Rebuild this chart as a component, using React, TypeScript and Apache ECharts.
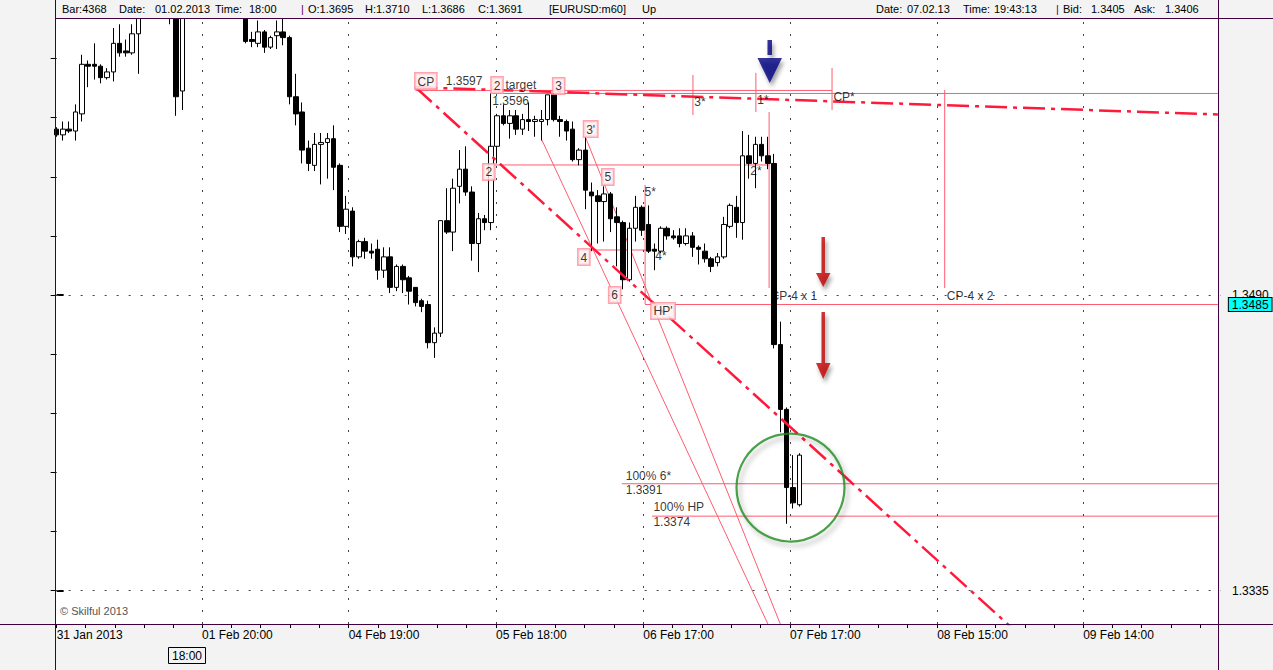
import React, { useEffect, useRef } from "react";
import * as echarts from "echarts";

const FONT = "'Liberation Sans', Arial, sans-serif";

// ---------- axes ----------
const categoryCount = 186;
// time labels, positioned in bar units
const timeLabelPos = [0, 23.1, 46.4, 69.8, 93.2, 116.5, 139.9, 163.1];
const timeLabelText = ["31 Jan 2013", "01 Feb 20:00", "04 Feb 19:00", "05 Feb 18:00", "06 Feb 17:00", "07 Feb 17:00", "08 Feb 15:00", "09 Feb 14:00"];
const priceLabels = [1.349, 1.3335];
const priceMin = 1.331743;
const priceMax = 1.363529;

// ---------- EURUSD m60 candles ----------
const opens = [
  1.3577, 1.3574, 1.3577, 1.3576, 1.3585, 1.3611, 1.3611, 1.3610, 1.3604, 1.3607,
  1.3622, 1.3618, 1.3617, 1.3627, 1.3642, 1.3651, 1.3659, 1.3655, 1.3662, 1.3650,
  1.3597, 1.3668, 1.3690, 1.3686, 1.3695, 1.3691, 1.3684, 1.3675, 1.3668, 1.3656,
  1.3645, 1.3624, 1.3622, 1.3628, 1.3620, 1.3626, 1.3628, 1.3625, 1.3594, 1.3586,
  1.3567, 1.3558, 1.3569, 1.3570, 1.3572, 1.3558, 1.3526, 1.3534, 1.3510, 1.3518,
  1.3513, 1.3514, 1.3503, 1.3510, 1.3494, 1.3505, 1.3499, 1.3494, 1.3487, 1.3485,
  1.3465, 1.3470, 1.3529, 1.3523, 1.3547, 1.3556, 1.3544, 1.3517, 1.3530, 1.3528,
  1.3568, 1.3584, 1.3580, 1.3584, 1.3577, 1.3582, 1.3581, 1.3581, 1.3582, 1.3595,
  1.3582, 1.3581, 1.3577, 1.3561, 1.3566, 1.3544, 1.3542, 1.3539, 1.3543, 1.3531,
  1.3528, 1.3498, 1.3525, 1.3536, 1.3527, 1.3514, 1.3513, 1.3525, 1.3521, 1.3521,
  1.3517, 1.3521, 1.3515, 1.3513, 1.3509, 1.3507, 1.3510, 1.3526, 1.3536, 1.3528,
  1.3563, 1.3559, 1.3569, 1.3563, 1.3559, 1.3464, 1.3430, 1.3389, 1.3380,
];
const highs = [
  1.3578, 1.3581, 1.3581, 1.3590, 1.3616, 1.3613, 1.3622, 1.3611, 1.3609, 1.3630,
  1.3632, 1.3624, 1.3632, 1.3646, 1.3655, 1.3663, 1.3668, 1.3672, 1.3668, 1.3655,
  1.3676, 1.3695, 1.3702, 1.3705, 1.3710, 1.3698, 1.3690, 1.3682, 1.3674, 1.3661,
  1.3648, 1.3628, 1.3634, 1.3629, 1.3626, 1.3634, 1.3635, 1.3626, 1.3606, 1.3591,
  1.3571, 1.3575, 1.3575, 1.3575, 1.3579, 1.3559, 1.3542, 1.3536, 1.3519, 1.3520,
  1.3517, 1.3519, 1.3515, 1.3515, 1.3506, 1.3506, 1.3500, 1.3494, 1.3488, 1.3487,
  1.3473, 1.3529, 1.3546, 1.3551, 1.3566, 1.3568, 1.3547, 1.3533, 1.3532, 1.3596,
  1.3585, 1.3590, 1.3587, 1.3587, 1.3585, 1.3591, 1.3584, 1.3587, 1.3595, 1.3596,
  1.3584, 1.3582, 1.3581, 1.3567, 1.3573, 1.3549, 1.3545, 1.3547, 1.3544, 1.3536,
  1.3529, 1.3528, 1.3542, 1.3537, 1.3537, 1.3517, 1.3526, 1.3526, 1.3524, 1.3525,
  1.3525, 1.3523, 1.3516, 1.3517, 1.3510, 1.3512, 1.3531, 1.3538, 1.3542, 1.3576,
  1.3574, 1.3573, 1.3573, 1.3573, 1.3564, 1.3476, 1.3431, 1.3406, 1.3407,
];
const lows = [
  1.3573, 1.3571, 1.3575, 1.3571, 1.3581, 1.3599, 1.3603, 1.3601, 1.3603, 1.3602,
  1.3615, 1.3615, 1.3616, 1.3606, 1.3638, 1.3644, 1.3650, 1.3651, 1.3632, 1.3584,
  1.3587, 1.3664, 1.3681, 1.3684, 1.3686, 1.3680, 1.3670, 1.3662, 1.3652, 1.3641,
  1.3622, 1.3620, 1.3620, 1.3617, 1.3619, 1.3619, 1.3621, 1.3590, 1.3579, 1.3559,
  1.3555, 1.3555, 1.3548, 1.3551, 1.3545, 1.3523, 1.3522, 1.3505, 1.3509, 1.3509,
  1.3509, 1.3498, 1.3499, 1.3491, 1.3492, 1.3491, 1.3485, 1.3484, 1.3481, 1.3462,
  1.3457, 1.3468, 1.3522, 1.3513, 1.3538, 1.3542, 1.3508, 1.3502, 1.3524, 1.3524,
  1.3559, 1.3579, 1.3572, 1.3574, 1.3574, 1.3576, 1.3573, 1.3571, 1.3579, 1.3581,
  1.3573, 1.3571, 1.3560, 1.3558, 1.3535, 1.3513, 1.3517, 1.3518, 1.3523, 1.3505,
  1.3493, 1.3497, 1.3518, 1.3521, 1.3512, 1.3503, 1.3512, 1.3519, 1.3519, 1.3515,
  1.3516, 1.3510, 1.3506, 1.3507, 1.3502, 1.3505, 1.3509, 1.3525, 1.3520, 1.3519,
  1.3551, 1.3546, 1.3560, 1.3556, 1.3462, 1.3418, 1.3370, 1.3378, 1.3379,
];
const closes = [
  1.3574, 1.3577, 1.3576, 1.3586, 1.3611, 1.3610, 1.3610, 1.3604, 1.3607, 1.3622,
  1.3617, 1.3617, 1.3627, 1.3642, 1.3651, 1.3659, 1.3655, 1.3662, 1.3650, 1.3594,
  1.3668, 1.3690, 1.3686, 1.3695, 1.3691, 1.3684, 1.3675, 1.3668, 1.3656, 1.3645,
  1.3623, 1.3623, 1.3628, 1.3620, 1.3625, 1.3628, 1.3625, 1.3594, 1.3585, 1.3566,
  1.3559, 1.3569, 1.3570, 1.3572, 1.3557, 1.3526, 1.3535, 1.3510, 1.3518, 1.3513,
  1.3512, 1.3503, 1.3510, 1.3494, 1.3505, 1.3498, 1.3492, 1.3486, 1.3484, 1.3465,
  1.3470, 1.3529, 1.3523, 1.3546, 1.3556, 1.3544, 1.3517, 1.3530, 1.3528, 1.3568,
  1.3584, 1.3580, 1.3584, 1.3577, 1.3582, 1.3581, 1.3582, 1.3582, 1.3595, 1.3582,
  1.3581, 1.3576, 1.3561, 1.3566, 1.3545, 1.3542, 1.3539, 1.3543, 1.3530, 1.3528,
  1.3498, 1.3525, 1.3536, 1.3524, 1.3513, 1.3513, 1.3525, 1.3521, 1.3520, 1.3517,
  1.3521, 1.3515, 1.3514, 1.3509, 1.3505, 1.3510, 1.3527, 1.3537, 1.3528, 1.3563,
  1.3559, 1.3569, 1.3563, 1.3559, 1.3464, 1.3430, 1.3389, 1.3381, 1.3406,
];

// ---------- annotations, in (bar index, price) ----------
// thin pink lines: [bar1, price1, bar2, price2]
const thinLines = [
  [57.0, 1.35973, 123.2, 1.35973],
  [69.2, 1.35957, 184.5, 1.35957],
  [69.2, 1.35582, 113.2, 1.35582],
  [84.7, 1.35136, 95.1, 1.35136],
  [89.8, 1.3391, 184.5, 1.3391],
  [94.6, 1.3374, 184.5, 1.3374],
  [113.2, 1.3586, 113.2, 1.34937],
  [141.1, 1.35975, 141.1, 1.34937],
  [93.5, 1.35477, 93.5, 1.34853],
  [101.1, 1.36054, 101.1, 1.35844],
  [111.1, 1.36065, 111.1, 1.3586],
  [123.2, 1.36091, 123.2, 1.3587],
  [77.1, 1.35713, 114.2, 1.3309],
  [84.0, 1.3573, 116.0, 1.3309],
];
// thick red dash-dot trend lines
const dashDotLines = [
  [57.0, 1.3599, 184.5, 1.35847],
  [57.0, 1.3599, 153.9, 1.3309],
];
const redLevel = [86.3, 1.3572, 108.6, 1.3572];
const blueLevel = [94.6, 1.35472, 122.6, 1.35472];
const hpLevel = [93.5, 1.3485, 184.5, 1.3485];
const hpValue = "1.3485";

const boxLabels = [
  [57.1, 1.36059, "CP"],
  [69.2, 1.36038, "2"],
  [79.0, 1.36033, "3"],
  [83.9, 1.35807, "3'"],
  [67.9, 1.35582, "2"],
  [86.8, 1.35556, "5"],
  [83.0, 1.35136, "4"],
  [87.9, 1.34937, "6"],
  [94.6, 1.34853, "HP'"],
];
const textLabels = [
  [61.9, 1.36054, "1.3597"],
  [71.4, 1.36038, "target"],
  [69.3, 1.35954, "1.3596"],
  [93.5, 1.35472, "5*"],
  [95.2, 1.35141, "4*"],
  [101.4, 1.35949, "3*"],
  [111.4, 1.35959, "1*"],
  [123.5, 1.35975, "CP*"],
  [110.3, 1.35582, "2*"],
  [113.5, 1.34931, "CP-4 x 1"],
  [141.5, 1.34931, "CP-4 x 2"],
  [90.5, 1.33987, "100% 6*"],
  [90.5, 1.33909, "1.3391"],
  [94.9, 1.3382, "100% HP"],
  [94.9, 1.33741, "1.3374"],
];
// arrows: [bar, price of centre]
const blueArrow = [113.3, 1.36125];
const redArrowShort = [121.8, 1.35073];
const redArrowLong = [121.8, 1.34635];
const circleMark = [116.6, 1.3389];

const headerLeft = [
  ["Bar:4368", 62], ["Date:", 119], ["01.02.2013", 155], ["Time:", 215], ["18:00", 249], ["|", 301],
  ["O:1.3695", 308], ["H:1.3710", 365], ["L:1.3686", 422], ["C:1.3691", 478], ["[EURUSD:m60]", 549], ["Up", 642],
];
const headerRight = [
  ["Date:", 876], ["07.02.13", 907], ["Time:", 963], ["19:43:13", 994], ["|", 1056],
  ["Bid:", 1063], ["1.3405", 1091], ["Ask:", 1134], ["1.3406", 1165],
];

export default function App() {
  const ref = useRef<HTMLDivElement>(null);

  useEffect(() => {
    const chart = echarts.init(ref.current as HTMLDivElement, null, { renderer: "svg" });

    const categories = Array.from({ length: categoryCount }, (_, i) => "b" + i);
    const tickPos: number[] = [];
    for (let j = 0; j < timeLabelPos.length; j++) {
      const a = timeLabelPos[j];
      const b = j + 1 < timeLabelPos.length ? timeLabelPos[j + 1] : a + (a - timeLabelPos[j - 1]);
      for (let m = 0; m < 5; m++) {
        const v = +(a + ((b - a) * m) / 5).toFixed(3);
        if (v <= categoryCount - 1.5) tickPos.push(v);
      }
    }
    const step = (priceLabels[0] - priceLabels[1]) / 5;
    const minorTicks: number[] = [];
    for (let k = -8; k <= 8; k++) {
      const v = +(priceLabels[0] + k * step).toFixed(4);
      if (v > priceMin && v < priceMax) minorTicks.push(v);
    }

    const candleData = opens.map((o, i) => [o, closes[i], lows[i], highs[i]]);

    const pink = "#ff5c70";
    const seg = (s: any[], color: string, width: number, type: any, extra: any = {}) => ({
      type: "line",
      xAxisIndex: 1,
      yAxisIndex: 0,
      data: [[s[0], s[1]], [s[2], s[3]]],
      showSymbol: false,
      symbol: "none",
      silent: true,
      z: extra.z ?? 4,
      lineStyle: { color, width, type, ...extra.style },
    });

    const boxStyle = {
      backgroundColor: "#fcf0f1",
      borderColor: "#ff8d9b",
      borderWidth: 1.5,
      padding: [1, 2, 0, 2],
    };
    const labelItems = [
      ...boxLabels.map((b: any) => ({
        value: [b[0], b[1]],
        label: { show: true, formatter: b[2], position: [0, 0], color: "#000", fontSize: 12, fontFamily: FONT, lineHeight: 14, ...boxStyle },
      })),
      ...textLabels.map((b: any) => ({
        value: [b[0], b[1]],
        label: { show: true, formatter: b[2], position: [0, 0], color: "#000", fontSize: 12, fontFamily: FONT, lineHeight: 14 },
      })),
    ];

    const shadow = { shadowColor: "rgba(0,0,0,0.45)", shadowBlur: 4, shadowOffsetX: 2, shadowOffsetY: 4 };

    const frame = "#400040";
    const headerText = (t: string, x: number) => ({
      type: "text",
      x,
      y: 9,
      z: 101,
      style: { text: t, fill: t === "|" ? "#600060" : "#000", fontSize: 11, fontFamily: FONT, verticalAlign: "middle", align: "left" },
    });

    const option: any = {
      animation: false,
      backgroundColor: "#f3f3f3",
      textStyle: { fontFamily: FONT },
      grid: { left: 56.65, right: 52, top: 18, bottom: 46, show: false },
      xAxis: [
        {
          type: "category",
          data: categories,
          boundaryGap: false,
          show: false,
        },
        {
          type: "value",
          min: 0,
          max: categoryCount - 1,
          position: "bottom",
          axisLine: { show: false },
          axisTick: { show: true, customValues: tickPos, length: 4, lineStyle: { color: "#000" } },
          axisLabel: {
            show: true,
            customValues: timeLabelPos,
            formatter: (v: number) => timeLabelText[timeLabelPos.indexOf(v)] ?? "",
            align: "left",
            margin: 5,
            color: "#000",
            fontSize: 12,
            fontFamily: FONT,
          },
          splitLine: { show: false },
        },
      ],
      yAxis: [
        {
          type: "value",
          position: "right",
          min: priceMin,
          max: priceMax,
          axisLine: { show: false },
          axisTick: { show: true, customValues: priceLabels, length: 7, lineStyle: { color: "#000", width: 2 } },
          axisLabel: {
            show: true,
            customValues: priceLabels,
            formatter: (v: number) => v.toFixed(4),
            margin: 11,
            color: "#000",
            fontSize: 12,
            fontFamily: FONT,
            verticalAlign: "middle",
            verticalAlignMinLabel: "middle",
            verticalAlignMaxLabel: "middle",
          },
          splitLine: { show: false },
        },
        {
          type: "value",
          position: "left",
          min: priceMin,
          max: priceMax,
          axisLine: { show: false },
          axisTick: { show: true, customValues: minorTicks, length: 6, lineStyle: { color: "#000", width: 1 } },
          axisLabel: { show: false },
          splitLine: { show: false },
        },
      ],
      series: [
        {
          type: "line",
          xAxisIndex: 1,
          yAxisIndex: 0,
          data: [],
          z: 1,
          silent: true,
          markLine: {
            silent: true,
            precision: 6,
            symbol: ["none", "none"],
            label: { show: false },
            lineStyle: { color: "#444", width: 1, type: [2, 10] },
            data: [
              ...timeLabelPos.slice(1).map((v) => ({ xAxis: v })),
              ...priceLabels.map((v) => ({ yAxis: v })),
            ],
          },
        },
        ...thinLines.map((s) => seg(s, pink, 1, "solid", { z: 3 })),
        {
          type: "candlestick",
          xAxisIndex: 0,
          yAxisIndex: 0,
          data: candleData,
          barWidth: 5,
          z: 5,
          clip: true,
          itemStyle: { color: "#ffffff", color0: "#000000", borderColor: "#000000", borderColor0: "#000000", borderWidth: 1 },
        },
        ...dashDotLines.map((s) => seg(s, "#ff1a3c", 2.5, [22, 6, 4, 6], { z: 6 })),
        seg(redLevel, "#b40000", 3, "solid", { z: 6, style: shadow }),
        seg(blueLevel, "#0000ee", 3, "solid", { z: 6, style: shadow }),
        {
          type: "line",
          xAxisIndex: 1,
          yAxisIndex: 0,
          data: [],
          z: 4,
          silent: true,
          markLine: {
            silent: true,
            precision: 6,
            symbol: ["none", "none"],
            lineStyle: { color: pink, width: 1, type: "solid" },
            label: {
              show: true,
              position: "end",
              formatter: hpValue,
              distance: 11,
              backgroundColor: "#00ffff",
              borderColor: "#000",
              borderWidth: 1,
              padding: [1, 3, 0, 3],
              color: "#000",
              fontSize: 12,
              fontFamily: FONT,
            },
            data: [[{ coord: [hpLevel[0], hpLevel[1]] }, { coord: [hpLevel[2], hpLevel[3]] }]],
          },
        },
        {
          type: "scatter",
          xAxisIndex: 1,
          yAxisIndex: 0,
          silent: true,
          z: 7,
          data: [
            {
              value: circleMark,
              symbol: "circle",
              symbolSize: 108,
              itemStyle: { color: "rgba(0,0,0,0)", borderColor: "#1e8a1e", borderWidth: 2.2, shadowColor: "rgba(0,0,0,0.35)", shadowBlur: 5, shadowOffsetX: 3, shadowOffsetY: 4 },
            },
            {
              value: blueArrow,
              symbol: "path://M10,0 L14.5,0 L14.5,15 L10,15 Z M0,18 L24.5,18 L12.25,43 Z",
              symbolSize: [24.5, 43],
              itemStyle: { color: "#000080", ...shadow },
            },
            {
              value: redArrowShort,
              symbol: "path://M5.5,0 L9,0 L9,36 L14.5,36 L7.25,50 L0,36 L5.5,36 Z",
              symbolSize: [14.5, 50],
              itemStyle: { color: "#c00000", ...shadow },
            },
            {
              value: redArrowLong,
              symbol: "path://M5.5,0 L9,0 L9,51 L14.5,51 L7.25,67 L0,51 L5.5,51 Z",
              symbolSize: [14.5, 67],
              itemStyle: { color: "#c00000", ...shadow },
            },
          ],
        },
        {
          type: "scatter",
          xAxisIndex: 1,
          yAxisIndex: 0,
          silent: true,
          z: 8,
          symbolSize: 1,
          itemStyle: { color: "rgba(0,0,0,0)" },
          data: labelItems,
        },
      ],
      graphic: [
        { type: "rect", z: -100, silent: true, shape: { x: 55, y: 18, width: 1164, height: 606 }, style: { fill: "#ffffff" } },
        // header strip masks candles that rise above the price range
        { type: "rect", z: 99, silent: true, shape: { x: 0, y: 0, width: 1273, height: 18 }, style: { fill: "#f3f3f3" } },
        { type: "line", z: 100, shape: { x1: 55.5, y1: 0, x2: 55.5, y2: 670 }, style: { stroke: frame, lineWidth: 1 } },
        { type: "line", z: 100, shape: { x1: 1218.5, y1: 0, x2: 1218.5, y2: 670 }, style: { stroke: frame, lineWidth: 1 } },
        { type: "line", z: 100, shape: { x1: 55, y1: 18.5, x2: 1273, y2: 18.5 }, style: { stroke: frame, lineWidth: 1 } },
        { type: "line", z: 100, shape: { x1: 0, y1: 624.5, x2: 1273, y2: 624.5 }, style: { stroke: frame, lineWidth: 1 } },
        ...headerLeft.map((h: any) => headerText(h[0], h[1])),
        ...headerRight.map((h: any) => headerText(h[0], h[1])),
        { type: "text", x: 60, y: 611, z: 100, style: { text: "© Skilful 2013", fill: "#555", fontSize: 11, fontFamily: FONT, verticalAlign: "middle", align: "left" } },
        { type: "rect", z: 100, shape: { x: 168.5, y: 647.5, width: 37, height: 16 }, style: { fill: "#f3f3f3", stroke: "#000", lineWidth: 1 } },
        { type: "text", x: 187, y: 656, z: 101, style: { text: "18:00", fill: "#000", fontSize: 12, fontFamily: FONT, verticalAlign: "middle", align: "center" } },
      ],
    };

    chart.setOption(option);
    return () => chart.dispose();
  }, []);

  return <div ref={ref} style={{ position: "fixed", left: 0, top: 0, width: 1273, height: 670 }} />;
}
